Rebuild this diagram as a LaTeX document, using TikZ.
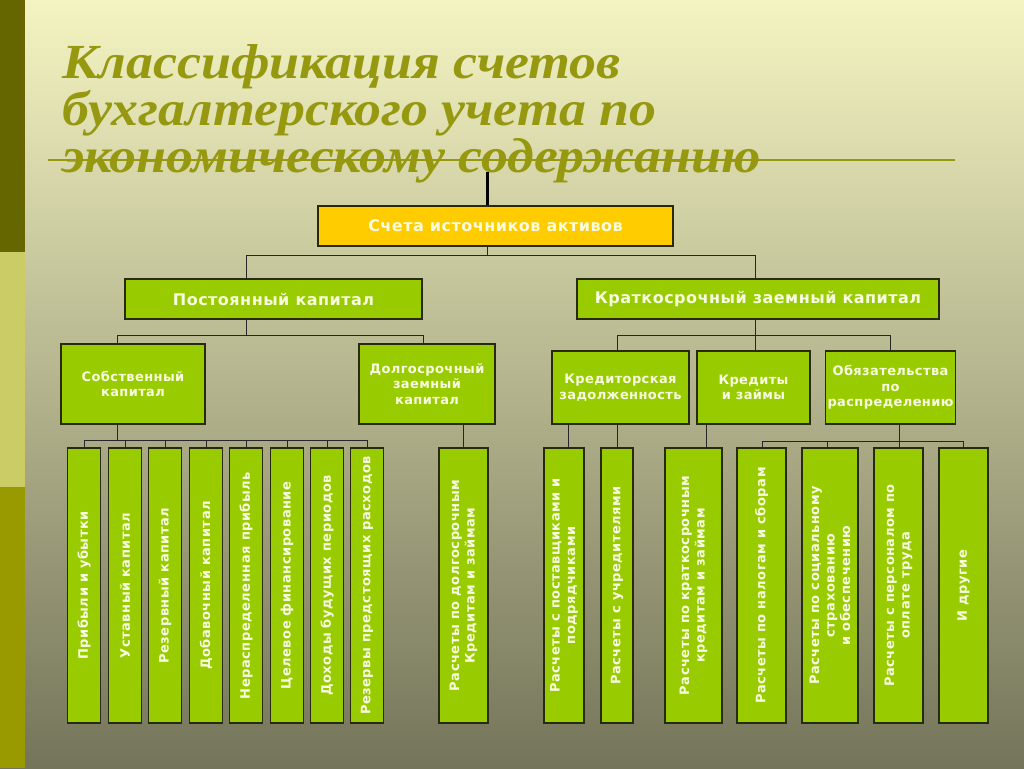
\documentclass[tikz,border=0pt]{standalone}
\usepackage{fontspec}
\setmainfont{DejaVu Sans}
\newfontfamily\titlefont{Liberation Serif}[FakeStretch=1.10]
\newfontfamily\boxfont{DejaVu Sans}[LetterSpace=3]
\newfontfamily\vfont{DejaVu Sans}[LetterSpace=4]
\usetikzlibrary{calc}
\definecolor{bgtop}{RGB}{244,244,194}
\definecolor{bgmid}{RGB}{196,196,156}
\definecolor{bgbot}{RGB}{116,116,90}
\definecolor{stripeA}{RGB}{102,102,0}
\definecolor{stripeB}{RGB}{204,204,102}
\definecolor{stripeC}{RGB}{153,153,0}
\definecolor{titlecol}{RGB}{150,152,16}
\definecolor{boxgreen}{RGB}{153,204,0}
\definecolor{boxgold}{RGB}{255,204,0}
\definecolor{edgecol}{RGB}{40,42,16}
\definecolor{boxtext}{RGB}{248,252,225}
\tikzset{
  gbox/.style={draw=edgecol, line width=1.4pt, fill=boxgreen, text=boxtext, inner sep=2pt, align=center,
    font=\boxfont\fontsize{13}{15.5}\selectfont\bfseries},
  topbox/.style={gbox, font=\boxfont\fontsize{16}{18}\selectfont\bfseries},
  vbox/.style={gbox, rotate=90, minimum width=275pt, font=\vfont\fontsize{13}{15.5}\selectfont\bfseries},
  conn/.style={draw=black!85, line width=1pt},
  titletext/.style={text=titlecol, anchor=base west, inner sep=0pt, text height=32pt, text depth=10pt,
    font=\titlefont\fontsize{49}{49}\selectfont\bfseries\itshape}
}
\begin{document}
\begin{tikzpicture}[x=1pt,y=-1pt]
\useasboundingbox (0,0) rectangle (1024,768);
\shade[top color=bgtop, middle color=bgmid, bottom color=bgbot] (0,0) rectangle (1024,768);
% left stripe
\fill[stripeA] (0,0) rectangle (25,252);
\fill[stripeB] (0,252) rectangle (25,487);
\fill[stripeC] (0,487) rectangle (25,768);

% title
\node[titletext] (t1) at (62,78) {Классификация счетов};
\node[titletext] (t2) at (62,125) {бухгалтерского учета по};
\node[titletext] (t3) at (62,172) {экономическому содержанию};
\coordinate (tl1) at (48,160);
\coordinate (tl2) at (955,160);
\draw[titlecol, line width=2pt] (tl1) -- (tl2);

% level 0
\node[topbox, fill=boxgold, minimum width=355pt, minimum height=40pt] (top) at (495.5,226) {Счета источников активов};
% level 1
\node[topbox, minimum width=297pt, minimum height=40pt] (pk) at (273.5,299) {Постоянный капитал};
\node[topbox, minimum width=362pt, minimum height=40pt] (kz) at (758,299) {Краткосрочный заемный капитал};
% level 2
\node[gbox, minimum width=144pt, minimum height=80pt] (sk) at (133,384) {Собственный\\капитал};
\node[gbox, minimum width=136pt, minimum height=80pt] (dz) at (427,384) {Долгосрочный\\заемный\\капитал};
\node[gbox, minimum width=137pt, minimum height=73pt] (kr) at (620.5,387.5) {Кредиторская\\задолженность};
\node[gbox, minimum width=113pt, minimum height=73pt] (kzm) at (753.5,387.5) {Кредиты\\и займы};
\node[gbox, minimum width=129pt, minimum height=73pt] (ob) at (890.5,387.5) {Обязательства\\по\\распределению};
% level 3
\node[vbox, minimum height=33pt] (v1) at (84,585.5) {Прибыли и убытки};
\node[vbox, minimum height=33pt] (v2) at (125,585.5) {Уставный капитал};
\node[vbox, minimum height=33pt] (v3) at (165,585.5) {Резервный капитал};
\node[vbox, minimum height=33pt] (v4) at (206,585.5) {Добавочный капитал};
\node[vbox, minimum height=33pt] (v5) at (246,585.5) {Нераспределенная прибыль};
\node[vbox, minimum height=33pt] (v6) at (287,585.5) {Целевое финансирование};
\node[vbox, minimum height=33pt] (v7) at (327,585.5) {Доходы будущих периодов};
\node[vbox, minimum height=33pt] (v8) at (367,585.5) {Резервы предстоящих расходов};
\node[vbox, minimum height=49pt] (v9) at (463.5,585.5) {Расчеты по долгосрочным\\Кредитам и займам};
\node[vbox, minimum height=40pt] (v10) at (564,585.5) {Расчеты с поставщиками и\\подрядчиками};
\node[vbox, minimum height=32pt] (v11) at (617,585.5) {Расчеты с учредителями};
\node[vbox, minimum height=57pt] (v12) at (693.5,585.5) {Расчеты по краткосрочным\\кредитам и займам};
\node[vbox, minimum height=49pt] (v13) at (761.5,585.5) {Расчеты по налогам и сборам};
\node[vbox, minimum height=56pt] (v14) at (830,585.5) {Расчеты по социальному\\страхованию\\и обеспечению};
\node[vbox, minimum height=49pt] (v15) at (898.5,585.5) {Расчеты с персоналом по\\оплате труда};
\node[vbox, minimum height=49pt] (v16) at (963.5,585.5) {И другие};

% x positions of connectors
\coordinate (x0) at (487,0);
\coordinate (xpk) at (246,0);
\coordinate (xkz) at (755,0);
\coordinate (xsk) at (117,0);
\coordinate (xdz) at (423,0);
\coordinate (xdzb) at (463,0);
\coordinate (xkr) at (617,0);
\coordinate (xkra) at (568,0);
\coordinate (xkrb) at (617,0);
\coordinate (xob) at (890,0);
\coordinate (xobb) at (899,0);
\coordinate (xkzm) at (706,0);
\coordinate (x13) at (762,0);
\coordinate (x14) at (827,0);
\coordinate (x16) at (963,0);
% junctions
\coordinate (c0) at (487,172);
\coordinate (j0) at (487,255);
\coordinate (j1) at (246,335);
\coordinate (j2) at (755,335);
\coordinate (j3) at (117,440);
\coordinate (j4) at (899,441);

\draw[black, line width=3pt] (c0) -- (x0 |- top.north);
\draw[conn] (x0 |- top.south) -- (j0);
\draw[conn] (j0) -| (xpk |- pk.north);
\draw[conn] (j0) -| (xkz |- kz.north);

\draw[conn] (xpk |- pk.south) -- (j1);
\draw[conn] (j1) -| (xsk |- sk.north);
\draw[conn] (j1) -| (xdz |- dz.north);

\draw[conn] (xkz |- kz.south) -- (xkz |- kzm.north);
\draw[conn] (j2) -| (xkr |- kr.north);
\draw[conn] (j2) -| (xob |- ob.north);

\draw[conn] (xsk |- sk.south) -- (j3);
\foreach \v in {v1,v2,v3,v4,v5,v6,v7,v8}{
  \draw[conn] (j3) -| (\v.east);
}
\draw[conn] (xdzb |- dz.south) -- (xdzb |- v9.east);
\draw[conn] (xkra |- kr.south) -- (xkra |- v10.east);
\draw[conn] (xkrb |- kr.south) -- (xkrb |- v11.east);
\draw[conn] (xkzm |- kzm.south) -- (xkzm |- v12.east);

\draw[conn] (xobb |- ob.south) -- (j4);
\draw[conn] (j4) -| (x13 |- v13.east);
\draw[conn] (j4) -| (x14 |- v14.east);
\draw[conn] (j4) -| (xobb |- v15.east);
\draw[conn] (j4) -| (x16 |- v16.east);
\end{tikzpicture}
\end{document}
